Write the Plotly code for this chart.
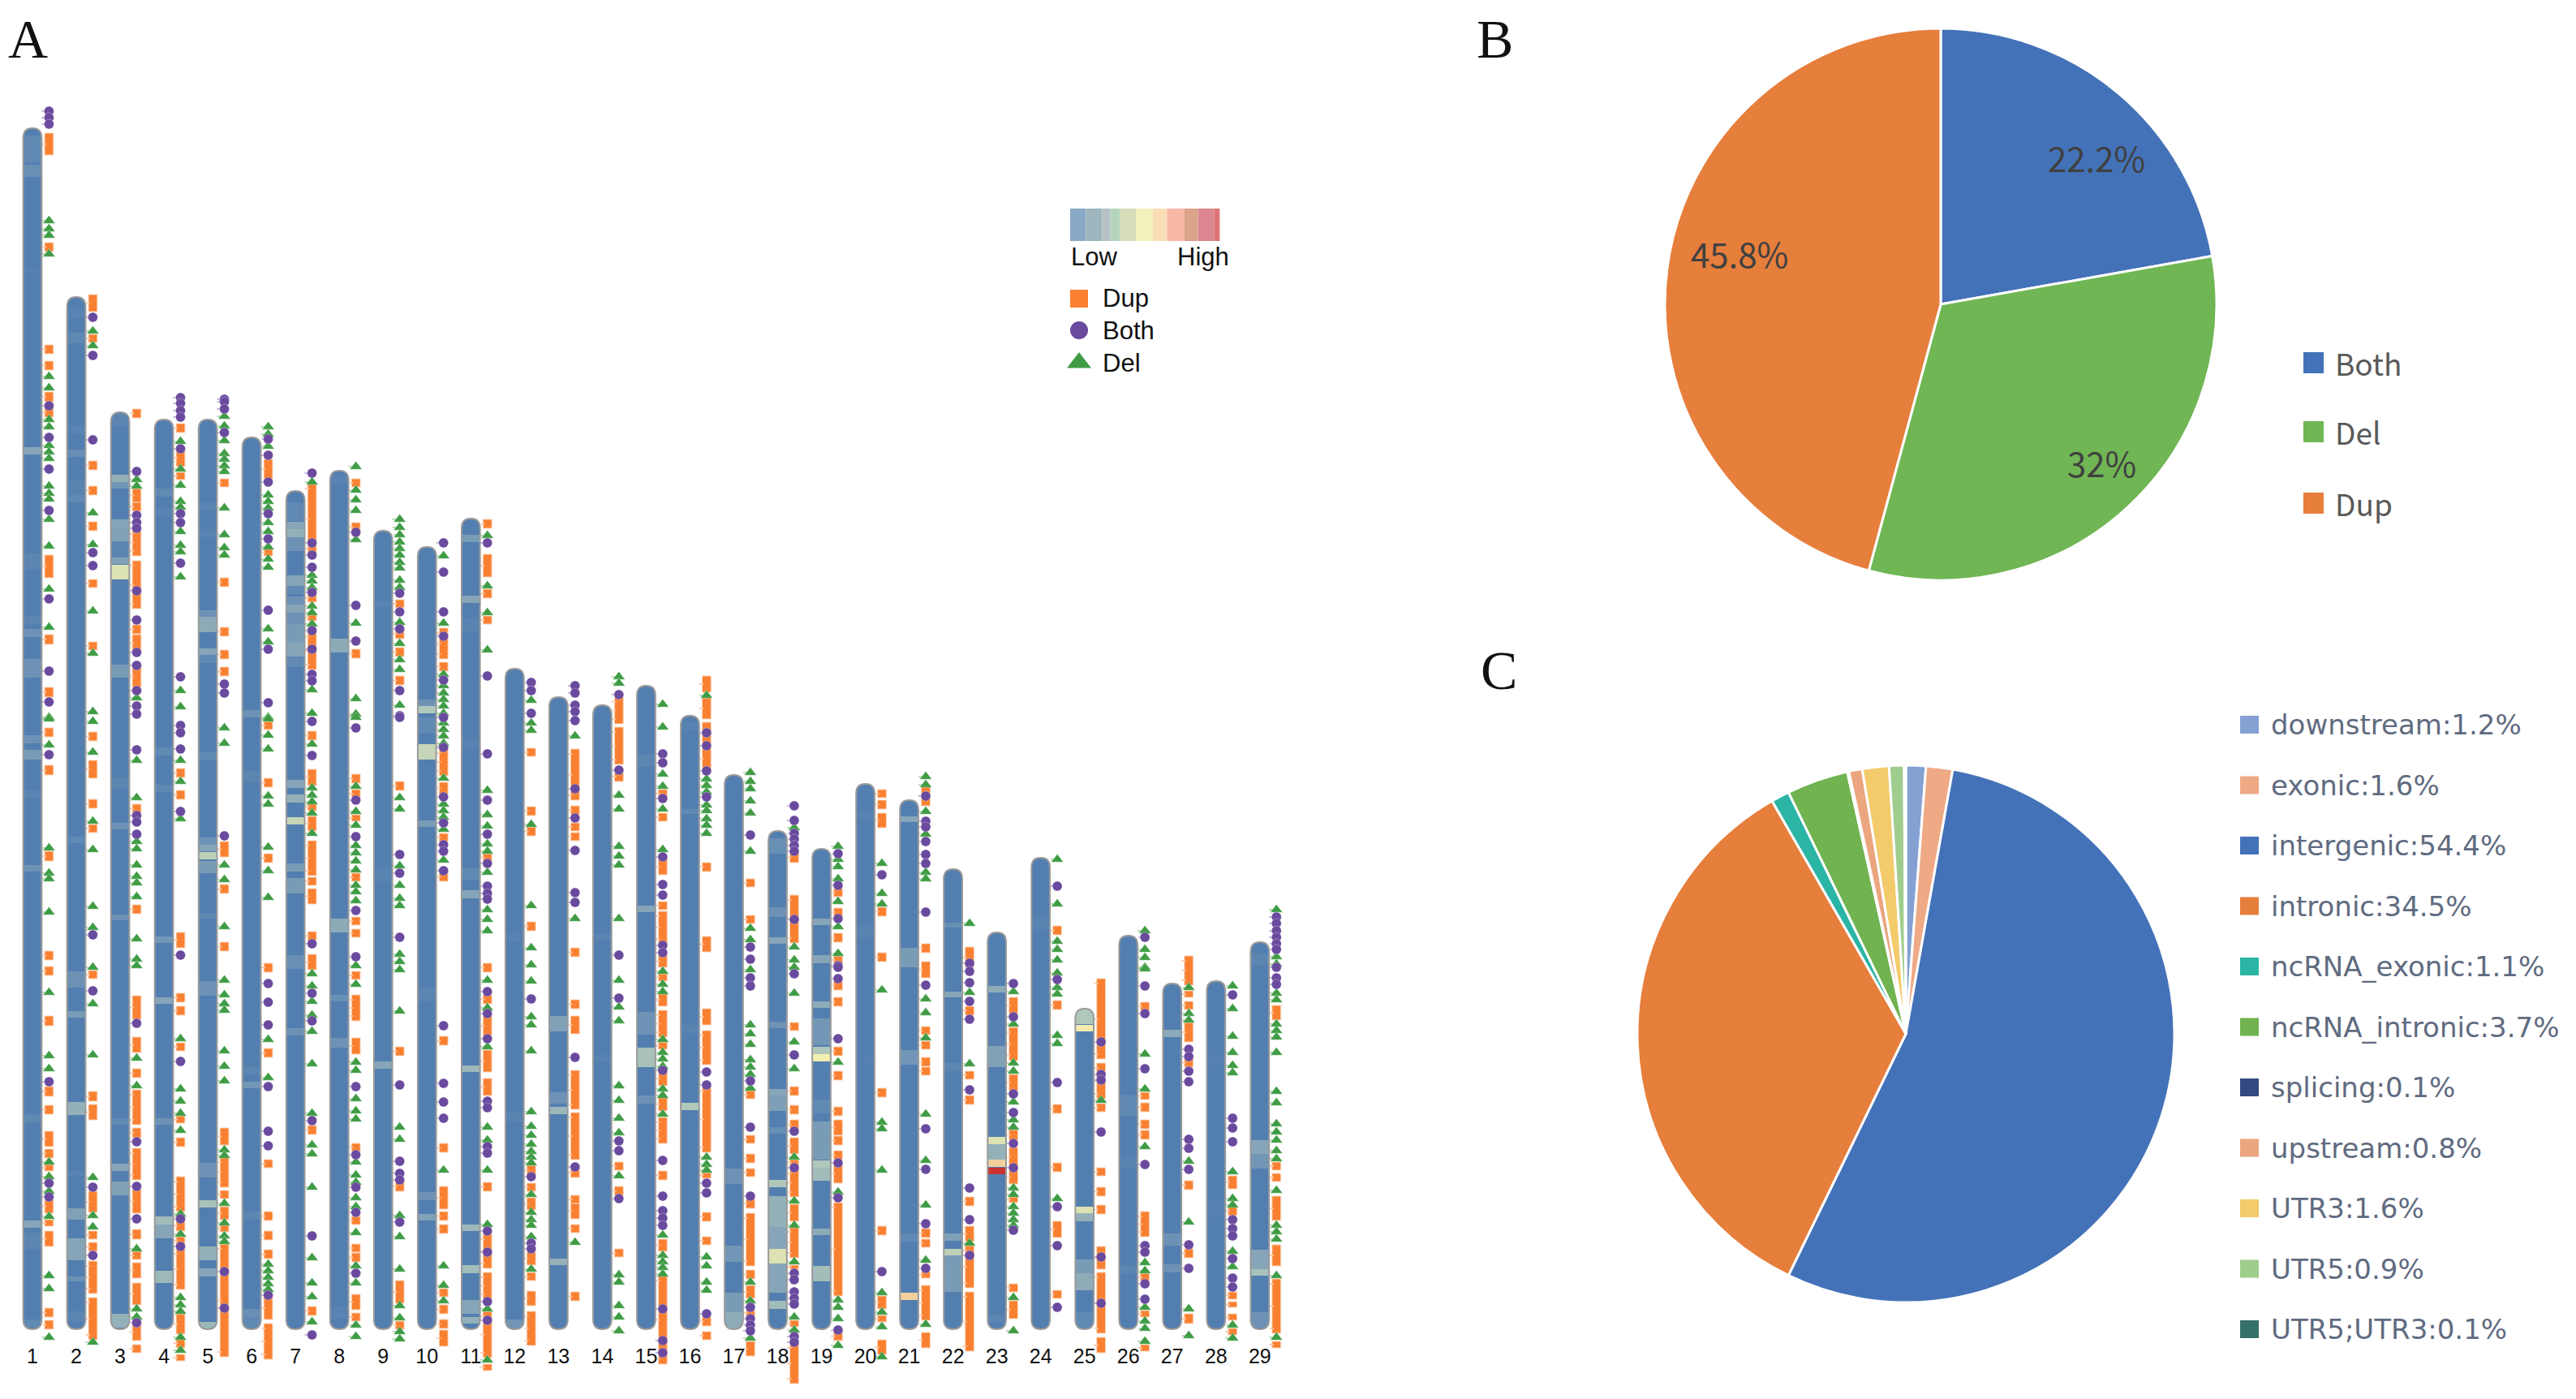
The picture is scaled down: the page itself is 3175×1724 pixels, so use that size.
import plotly.graph_objects as go

W, H = 3175, 1724
CHROMS = list(range(1, 30))
CHR_TOP = [158,366,508,517,517,539,605,580,654,674,639,824,859,869,845,882,955,1024,1046,966,986,1071,1149,1057,1243,1153,1212,1209,1161]
CHR_BOTTOM = 1638

DEL_POS = [
 [272,282,290,313,464,478,517,526,549,557,565,599,608,615,640,673,726,773,884,886,918,1045,1076,1083,1124,1223,1301,1317,1432,1450,1468,1499,1572,1588,1648],
 [408,426,632,671,753,805,877,889,927,1012,1047,1117,1143,1192,1237,1300,1451,1498,1512,1654],
 [591,599,860,937,983,1037,1046,1066,1080,1088,1105,1157,1182,1190,1304,1338,1539,1613,1623],
 [544,578,598,618,625,655,672,680,711,851,871,937,963,1009,1280,1342,1357,1372,1393,1496,1521,1599,1608,1616,1648,1664],
 [513,525,543,559,566,574,581,626,659,675,684,897,916,1066,1084,1142,1208,1226,1237,1245,1295,1314,1332,1417,1424,1483,1507,1523,1530],
 [526,535,550,610,618,626,644,655,674,689,699,775,791,884,886,906,923,981,991,1044,1073,1106,1281,1328,1558,1566,1574,1582,1589],
 [594,709,716,724,747,755,769,850,879,917,971,980,988,1002,1027,1200,1215,1234,1251,1271,1311,1372,1411,1422,1463,1550,1581,1598,1629],
 [575,604,616,629,665,768,861,880,884,969,1000,1017,1042,1051,1061,1072,1091,1099,1110,1190,1213,1309,1319,1354,1369,1379,1432,1448,1457,1476,1487,1519,1560,1581,1633,1647],
 [640,650,659,668,676,684,693,700,715,724,767,793,813,825,869,983,997,1067,1091,1107,1116,1176,1185,1195,1246,1389,1404,1498,1524,1564,1609,1624,1641,1650],
 [685,768,831,845,854,862,870,879,891,899,907,916,959,991,999,1007,1022,1060,1442,1560,1584,1603],
 [660,722,755,801,974,1004,1018,1040,1049,1075,1121,1133,1147,1208,1242,1290,1389,1405,1442,1509,1613,1676],
 [863,891,900,1016,1116,1168,1189,1209,1253,1263,1295,1370,1388,1399,1410,1419,1426,1433,1472,1494,1503,1510,1524,1564],
 [907,1132,1531],
 [834,842,980,997,1043,1055,1066,1132,1208,1241,1258,1338,1356,1378,1396,1449,1571,1580,1609,1623,1640],
 [868,896,954,969,997,1047,1197,1213,1222,1281,1297,1305,1314,1342,1350,1373,1522,1547,1555,1562,1570],
 [857,960,968,976,992,999,1009,1017,1027,1426,1435,1442,1549,1560,1580,1590],
 [952,963,972,987,1002,1049,1144,1158,1195,1263,1274,1287,1306,1315,1324,1341,1580,1603,1649],
 [1020,1167,1183,1192,1224,1284,1317,1426,1480,1510,1555,1623,1639],
 [1043,1059,1068,1083,1111,1142,1175,1309,1469,1602,1611,1625,1658],
 [1064,1101,1114,1220,1383,1391,1442,1593,1617,1635,1672],
 [957,967,1000,1028,1075,1083,1231,1248,1279,1373,1430,1485,1553,1632],
 [1138,1223,1311,1532],
 [1222,1262,1310,1320,1358,1380,1389,1464,1472,1487,1495,1503,1510,1599,1640],
 [1059,1114,1160,1170,1183,1199,1217,1225,1276,1286,1477],
 [1356],
 [1147,1170,1180,1192,1194,1299,1342,1413,1556,1566,1611,1628,1637,1653],
 [1217,1249,1257,1431,1506,1613,1646],
 [1215,1243,1277,1297,1313,1322,1444,1477,1485,1542,1561,1633,1649],
 [1121,1179,1188,1224,1232,1262,1270,1278,1297,1345,1359,1385,1395,1405,1418,1428,1467,1510,1518,1527,1572,1648],
]

BOTH_POS = [
 [137,145,153,500,539,578,629,738,827,865,930,1333,1458,1475],
 [391,438,542,681,697,1152,1221,1463,1547],
 [581,635,644,651,728,764,804,820,851,870,880,924,1005,1013,1028,1261,1407,1462,1502,1630],
 [490,497,506,514,553,633,644,694,834,894,903,923,1000,1177,1308,1502,1536],
 [492,495,504,533,843,854,1030,1567,1612],
 [541,561,594,633,664,752,800,866,1212,1235,1263,1339,1394,1412,1596],
 [583,669,684,699,730,777,800,831,839,889,931,1163,1224,1258,1381,1523,1645],
 [656,746,790,897,986,1031,1122,1179,1339,1423,1463,1494,1569],
 [731,754,775,851,882,884,1053,1076,1155,1337,1431,1446,1454,1506],
 [669,705,754,784,838,884,921,982,1014,1041,1049,1073,1264,1335,1358,1378],
 [669,833,929,986,1028,1064,1092,1101,1108,1222,1249,1280,1357,1365,1413,1421,1517,1543,1604,1627],
 [841,851,879,1231,1450,1532,1539],
 [845,854,869,877,888,972,1008,1048,1100,1112,1303,1438],
 [856,949,1177,1230,1406,1418,1477],
 [929,940,984,1056,1090,1103,1165,1174,1319,1430,1474,1492,1501,1510,1613,1652,1667],
 [903,919,950,982,1321,1337,1458,1470,1619],
 [1029,1167,1182,1205,1215,1332,1389,1474,1611,1625,1633,1640],
 [993,1011,1027,1034,1042,1049,1133,1200,1300,1394,1439,1569,1577,1592,1600,1607,1647,1654],
 [1052,1091,1132,1190,1192,1206,1280,1433,1476,1639],
 [1078,1567],
 [981,1012,1019,1037,1053,1064,1124,1214,1391,1441,1508,1563],
 [1187,1197,1211,1234,1256,1343,1464,1503,1547],
 [1212,1253,1348,1371,1409,1439,1516],
 [1092,1207,1334,1487,1535,1611],
 [1284,1324,1331,1395,1549,1606],
 [1155,1215,1249,1317,1435,1535,1543,1582,1601],
 [1293,1302,1320,1333,1404,1415,1441,1534,1563],
 [1226,1378,1390,1407,1503,1514,1523,1551,1575,1586],
 [1130,1138,1147,1155,1163,1170,1192,1205,1213],
]

DUP_RUNS = [
 [(164,191),(299,310),(425,436),(445,456),(483,495),(502,514),(684,712),(782,794),(847,859),(897,908),(943,955),(1049,1061),(1172,1183),(1191,1202),(1252,1264),(1339,1351),(1362,1373),(1394,1413),(1416,1427),(1435,1443),(1478,1495),(1503,1511),(1517,1536),(1612,1623),(1627,1638)],
 [(363,384),(412,422),(568,579),(599,610),(643,654),(714,724),(791,801),(902,913),(937,959),(985,996),(1016,1026),(1196,1206),(1345,1357),(1361,1380),(1468,1494),(1517,1527),(1531,1542),(1554,1594),(1599,1651)],
 [(504,515),(602,619),(619,630),(652,685),(691,750),(770,781),(782,804),(820,847),(991,1002),(1115,1126),(1227,1256),(1278,1297),(1317,1328),(1343,1386),(1390,1402),(1415,1454),(1466,1495),(1515,1527),(1542,1552),(1556,1575),(1581,1608),(1631,1652),(1657,1667)],
 [(522,533),(553,575),(582,591),(947,958),(974,985),(1149,1168),(1224,1235),(1240,1251),(1285,1295),(1375,1384),(1402,1413),(1450,1493),(1504,1517),(1524,1533),(1539,1589),(1619,1644),(1649,1661),(1669,1677)],
 [(590,600),(712,723),(773,784),(801,812),(822,833),(1037,1056),(1090,1101),(1161,1172),(1390,1411),(1426,1463),(1467,1477),(1487,1503),(1509,1518),(1533,1672)],
 [(566,590),(676,685),(889,899),(959,970),(1052,1063),(1187,1198),(1292,1303),(1429,1439),(1493,1504),(1517,1528),(1540,1551),(1598,1626),(1631,1675)],
 [(596,682),(732,742),(757,765),(779,825),(901,912),(948,968),(989,999),(1006,1024),(1036,1079),(1081,1091),(1095,1114),(1148,1159),(1176,1195),(1387,1398),(1610,1621)],
 [(590,600),(644,655),(800,811),(954,965),(973,983),(1004,1012),(1076,1086),(1130,1140),(1145,1155),(1197,1207),(1226,1258),(1279,1299),(1409,1419),(1499,1509),(1533,1543),(1544,1555),(1595,1614),(1618,1628)],
 [(739,749),(775,787),(798,809),(833,844),(963,974),(1290,1301),(1456,1468),(1578,1606),(1628,1638)],
 [(774,812),(816,827),(922,956),(964,979),(1027,1037),(1076,1086),(1277,1288),(1409,1420),(1462,1490),(1493,1504),(1509,1520),(1588,1598),(1608,1619),(1626,1637),(1639,1659)],
 [(640,651),(683,711),(726,737),(759,769),(1052,1061),(1187,1198),(1226,1237),(1252,1276),(1294,1321),(1329,1350),(1457,1468),(1521,1563),(1568,1601),(1616,1673),(1681,1689)],
 [(922,932),(994,1005),(1019,1030),(1136,1147),(1436,1448),(1458,1468),(1476,1491),(1543,1559),(1568,1578),(1591,1609),(1616,1658)],
 [(923,986),(993,1004),(1014,1024),(1026,1036),(1168,1179),(1232,1243),(1252,1274),(1319,1367),(1371,1429),(1439,1451),(1473,1483),(1483,1502),(1509,1519),(1592,1603)],
 [(859,892),(896,942),(951,963),(1432,1442),(1462,1473),(1539,1549)],
 [(973,982),(1002,1012),(1058,1078),(1111,1121),(1123,1163),(1177,1192),(1200,1209),(1224,1240),(1245,1278),(1284,1293),(1320,1338),(1352,1369),(1377,1409),(1443,1454),(1527,1542),(1572,1681)],
 [(833,853),(860,886),(890,917),(922,948),(1063,1074),(1154,1173),(1243,1263),(1270,1312),(1339,1420),(1445,1452),(1494,1505),(1524,1534),(1623,1634),(1641,1651)],
 [(1083,1093),(1128,1138),(1344,1354),(1399,1409),(1422,1433),(1440,1450),(1477,1489),(1495,1560),(1565,1576),(1584,1600),(1615,1621),(1653,1671)],
 [(1050,1063),(1103,1162),(1260,1270),(1339,1350),(1362,1373),(1380,1392),(1402,1422),(1429,1437),(1440,1475),(1484,1505),(1512,1550),(1559,1564),(1627,1635),(1655,1705)],
 [(1095,1105),(1119,1129),(1150,1161),(1178,1188),(1209,1220),(1229,1240),(1290,1301),(1320,1331),(1364,1375),(1380,1399),(1400,1411),(1418,1429),(1435,1458),(1482,1597),(1641,1652)],
 [(973,983),(986,997),(1002,1020),(1118,1129),(1174,1185),(1341,1352),(1511,1522),(1597,1613),(1621,1629),(1651,1669)],
 [(968,993),(1163,1174),(1185,1205),(1265,1275),(1283,1293),(1303,1314),(1315,1325),(1514,1525),(1527,1537),(1567,1575),(1584,1627),(1642,1661)],
 [(1167,1192),(1240,1251),(1320,1330),(1350,1361),(1475,1486),(1511,1530),(1535,1587),(1592,1665)],
 [(1229,1249),(1266,1307),(1324,1344),(1392,1405),(1414,1437),(1442,1459),(1475,1482),(1582,1592),(1603,1625)],
 [(1141,1152),(1233,1244),(1361,1372),(1433,1444),(1505,1525),(1590,1600)],
 [(1206,1305),(1310,1354),(1360,1370),(1439,1449),(1463,1474),(1485,1496),(1536,1564),(1568,1643),(1648,1667)],
 [(1235,1245),(1346,1355),(1359,1370),(1380,1391),(1393,1404),(1493,1524),(1569,1579),(1615,1623),(1657,1665)],
 [(1178,1214),(1221,1229),(1234,1244),(1260,1284),(1304,1315),(1455,1466),(1539,1550),(1619,1631)],
 [(1449,1465),(1487,1498),(1592,1601),(1604,1611),(1619,1627),(1637,1645)],
 [(1239,1257),(1432,1442),(1446,1456),(1474,1504),(1534,1560),(1576,1643),(1653,1661)],
]

BANDS = [
 [(167,200,.15),(203,218,.18),(330,338,.08),(551,560,.3),(682,702,.12),(759,769,.12),(775,785,.2),(812,835,.2),(906,916,.2),(924,936,.25),(974,984,.1),(1066,1074,.2),(1373,1383,.15),(1504,1513,.3),(1519,1539,.12),(1626,1636,.15)],
 [(380,392,.1),(410,423,.15),(525,535,.1),(554,563,.18),(592,619,.1),(610,619,.15),(1031,1039,.15),(1197,1217,.2),(1246,1254,.25),(1358,1374,.35),(1443,1449,.1),(1489,1503,.28),(1526,1553,.3),(1573,1579,.2),(1616,1629,.12)],
 [(509,525,.12),(585,594,.35),(594,602,.22),(640,652,.3),(652,667,.28),(667,687,.12),(687,695,.28),(696,714,.55),(819,835,.25),(959,972,.12),(1014,1022,.2),(1127,1134,.2),(1378,1386,.15),(1434,1443,.3),(1456,1473,.28),(1619,1636,.35)],
 [(602,612,.15),(625,635,.1),(921,931,.15),(967,976,.15),(1154,1162,.22),(1229,1237,.3),(1378,1386,.2),(1499,1509,.4),(1509,1526,.3),(1566,1581,.38)],
 [(619,629,.1),(652,662,.1),(752,760,.2),(760,779,.32),(799,807,.3),(807,817,.15),(927,937,.15),(1032,1041,.2),(1041,1049,.3),(1050,1059,.48),(1061,1076,.25),(1126,1132,.15),(1209,1227,.2),(1433,1451,.2),(1479,1488,.42),(1536,1553,.35),(1563,1573,.3),(1629,1637,.38)],
 [(875,884,.2),(950,964,.12),(1314,1324,.12),(1333,1341,.22),(1493,1503,.12),(1613,1623,.18),(1623,1636,.15)],
 [(619,642,.15),(643,652,.3),(652,662,.35),(662,679,.2),(709,722,.3),(722,732,.15),(735,745,.2),(745,755,.3),(755,769,.2),(769,792,.25),(792,809,.3),(809,822,.15),(961,971,.3),(979,989,.35),(1007,1016,.5),(1064,1074,.25),(1082,1101,.25),(1177,1194,.18),(1267,1276,.2)],
 [(585,596,.1),(787,804,.32),(1132,1149,.32),(1226,1234,.18),(1279,1291,.2),(1610,1625,.1)],
 [(740,748,.1),(1070,1086,.1),(1308,1317,.3)],
 [(862,870,.2),(870,879,.45),(884,904,.15),(917,936,.5),(1011,1019,.25),(1217,1234,.12),(1469,1479,.2),(1496,1504,.28)],
 [(659,668,.25),(734,743,.3),(762,779,.1),(911,921,.1),(1070,1084,.15),(1097,1107,.3),(1313,1321,.38),(1509,1517,.38),(1559,1569,.4),(1602,1619,.3),(1623,1631,.35)],
 [(1150,1160,.1),(1370,1382,.1),(1626,1637,.22)],
 [(1252,1271,.28),(1346,1360,.2),(1364,1373,.38),(1551,1559,.35)],
 [(1151,1158,.12),(1300,1308,.1)],
 [(930,945,.12),(1116,1124,.3),(1247,1275,.2),(1291,1315,.42),(1350,1360,.2)],
 [(890,900,.1),(997,1003,.15),(1263,1273,.1),(1359,1368,.45)],
 [(1440,1459,.2),(1535,1555,.22),(1593,1617,.25),(1617,1639,.33)],
 [(1033,1052,.18),(1118,1130,.2),(1155,1163,.3),(1259,1267,.2),(1342,1350,.3),(1350,1369,.27),(1389,1397,.18),(1454,1463,.45),(1474,1484,.35),(1484,1512,.35),(1512,1539,.3),(1539,1557,.55),(1557,1581,.3),(1581,1593,.3),(1603,1613,.4)],
 [(1132,1140,.3),(1177,1187,.3),(1234,1242,.32),(1255,1288,.22),(1290,1299,.45),(1299,1308,.6),(1355,1372,.15),(1382,1429,.25),(1430,1439,.45),(1439,1455,.4),(1514,1522,.32),(1560,1579,.4)],
 [(1000,1010,.1),(1140,1155,.1),(1300,1310,.08)],
 [(1006,1013,.3),(1168,1192,.25),(1294,1312,.22),(1520,1530,.15),(1593,1602,.72)],
 [(1137,1143,.18),(1222,1229,.3),(1310,1320,.12),(1520,1529,.27),(1539,1547,.48),(1547,1592,.25)],
 [(1215,1223,.33),(1223,1289,.08),(1289,1315,.28),(1401,1410,.55),(1410,1429,.35),(1429,1438,.72),(1439,1447,1.0),(1620,1630,.12)],
 [(1130,1145,.1),(1300,1315,.06)],
 [(1244,1262,.45),(1263,1271,.62),(1487,1495,.55),(1495,1505,.35),(1552,1569,.25),(1569,1590,.33),(1617,1636,.15)],
 [(1349,1375,.15),(1425,1440,.1),(1560,1570,.12)],
 [(1269,1278,.32),(1520,1535,.2),(1558,1568,.2)],
 [(1300,1312,.08),(1480,1500,.08)],
 [(1175,1190,.12),(1405,1422,.3),(1422,1440,.22),(1540,1564,.3),(1564,1572,.42),(1617,1636,.2)],
]

PIE_B_LABELS = ["Both", "Del", "Dup"]
PIE_B_VALUES = [22.2, 32, 45.8]
PIE_B_COLORS = ["#4472B8", "#70B654", "#E67E3C"]
PIE_C_LABELS = ["downstream", "exonic", "intergenic", "intronic", "ncRNA_exonic", "ncRNA_intronic", "splicing", "upstream", "UTR3", "UTR5", "UTR5;UTR3"]
PIE_C_VALUES = [1.2, 1.6, 54.4, 34.5, 1.1, 3.7, 0.1, 0.8, 1.6, 0.9, 0.1]
PIE_C_COLORS = ["#85A1D4", "#EFA985", "#4472B8", "#E67E3C", "#2BB5A5", "#70B350", "#34497F", "#EBA57F", "#F3CB6B", "#9FCD8E", "#35706A"]
HEAT_LEGEND_COLORS = ["#8AA9C6", "#9DB6BE", "#B5C1C4", "#B5D4BC", "#D6DDBA", "#F2F2BC", "#F9DDB7", "#F9B8A5", "#DBA48B", "#DC8790", "#DD7575"]
HEAT_LEGEND_WIDTHS = [58, 60, 30, 35, 60, 62, 53, 65, 50, 60, 20]
HEAT_SCALE = [[0, "#4A76AE"], [.15, "#6089B3"], [.3, "#86A5B8"], [.45, "#B0C8BA"], [.6, "#F3EFB0"], [.75, "#F0C89A"], [1, "#C8322F"]]

DUP_C, BOTH_C, DEL_C = "#F98030", "#6A4A9E", "#3F9C45"
PX_PER_CHR = 54.03
X_LEFT = 1 - 40 / PX_PER_CHR
PANEL_W = 1650
HALF = 0.21
OFFSET = 0.378

def px_to_x(px):
    return X_LEFT + px / PX_PER_CHR

fig = go.Figure()

bx, bb, bl, bv = [], [], [], []
for c, top in zip(CHROMS, CHR_TOP):
    bx.append(c); bb.append(top); bl.append(CHR_BOTTOM - top); bv.append(.06)
    for t, b, v in BANDS[c - 1]:
        bx.append(c); bb.append(t); bl.append(b - t); bv.append(v)
fig.add_trace(go.Bar(x=bx, base=bb, y=bl, width=[2 * HALF] * len(bx), showlegend=False, hoverinfo="skip",
                     marker=dict(color=bv, colorscale=HEAT_SCALE, cmin=0, cmax=1, line=dict(width=0))))

def links(points, color):
    xs, ys = [], []
    for c, y in points:
        xs += [c + HALF, c + OFFSET - .06, None]
        ys += [y, y, None]
    fig.add_trace(go.Scatter(x=xs, y=ys, mode="lines", line=dict(color=color, width=1.6), showlegend=False, hoverinfo="skip"))

dup_links = []
for c in CHROMS:
    for t, b in DUP_RUNS[c - 1]:
        dup_links.append((c, (t + b) / 2))
        if b - t > 30:
            dup_links += [(c, t + 6), (c, b - 6)]
links(dup_links, "#FBC6A4")
links([(c, y) for c in CHROMS for y in DEL_POS[c - 1]], "#A9D3AB")
links([(c, y) for c in CHROMS for y in BOTH_POS[c - 1]], "#B5A5D2")

dx, db, dl = [], [], []
for c in CHROMS:
    for t, b in DUP_RUNS[c - 1]:
        dx.append(c + OFFSET); db.append(t); dl.append(b - t)
fig.add_trace(go.Bar(x=dx, base=db, y=dl, width=[.2] * len(dx), name="Dup", showlegend=False, hoverinfo="skip",
                     marker=dict(color=DUP_C, line=dict(color="#FCD3B8", width=1))))

def marks(pos, symbol, color, name, size):
    xs = [c + OFFSET for c in CHROMS for _ in pos[c - 1]]
    ys = [y for c in CHROMS for y in pos[c - 1]]
    fig.add_trace(go.Scatter(x=xs, y=ys, mode="markers", name=name, showlegend=False, hoverinfo="skip", cliponaxis=False,
                             marker=dict(symbol=symbol, size=size, color=color, line=dict(color="rgba(255,255,255,.5)", width=.6))))

marks(DEL_POS, "triangle-up", DEL_C, "Del", 13)
marks(BOTH_POS, "circle", BOTH_C, "Both", 12)

lx = px_to_x(1330)
for y, sym, col in zip([368, 407, 447], ["square", "circle", "triangle-up"], [DUP_C, BOTH_C, DEL_C]):
    fig.add_trace(go.Scatter(x=[lx], y=[y], mode="markers", showlegend=False, hoverinfo="skip",
                             marker=dict(symbol=sym, size=22 if sym != "triangle-up" else 26, color=col, line=dict(width=0))))

shapes = []
RY = 12
for c, top in zip(CHROMS, CHR_TOP):
    x0, x1, bot = c - HALF, c + HALF, CHR_BOTTOM
    m = (f"M {x0-.02},{top-1} L {x0-.02},{top+RY} L {x0},{top+RY} Q {x0},{top} {c},{top} L {c},{top-1} Z "
         f"M {x1+.02},{top-1} L {x1+.02},{top+RY} L {x1},{top+RY} Q {x1},{top} {c},{top} L {c},{top-1} Z "
         f"M {x0-.02},{bot+1} L {x0-.02},{bot-RY} L {x0},{bot-RY} Q {x0},{bot} {c},{bot} L {c},{bot+1} Z "
         f"M {x1+.02},{bot+1} L {x1+.02},{bot-RY} L {x1},{bot-RY} Q {x1},{bot} {c},{bot} L {c},{bot+1} Z")
    shapes.append(dict(type="path", path=m, xref="x", yref="y", fillcolor="white", line=dict(width=0), layer="above"))
    o = (f"M {x0},{top+RY} Q {x0},{top} {c},{top} Q {x1},{top} {x1},{top+RY} L {x1},{bot-RY} "
         f"Q {x1},{bot} {c},{bot} Q {x0},{bot} {x0},{bot-RY} Z")
    shapes.append(dict(type="path", path=o, xref="x", yref="y", line=dict(color="#9A9A9A", width=2), layer="above"))

x = 1319
for col, w in zip(HEAT_LEGEND_COLORS, [v / 3 for v in HEAT_LEGEND_WIDTHS]):
    shapes.append(dict(type="rect", xref="paper", yref="paper", x0=x / W, x1=(x + w) / W, y0=1 - 297 / H, y1=1 - 257 / H,
                       fillcolor=col, line=dict(width=0)))
    x += w

for y, col in zip([447, 532, 620], PIE_B_COLORS):
    shapes.append(dict(type="rect", xref="paper", yref="paper", x0=2839 / W, x1=2864 / W, y0=1 - (y + 13) / H, y1=1 - (y - 13) / H,
                       fillcolor=col, line=dict(width=0)))
for i, col in enumerate(PIE_C_COLORS):
    y = 893 + i * 74.5
    shapes.append(dict(type="rect", xref="paper", yref="paper", x0=2761 / W, x1=2784 / W, y0=1 - (y + 11) / H, y1=1 - (y - 11) / H,
                       fillcolor=col, line=dict(width=0)))

def pie_domain(cx, cy, r):
    return dict(x=[(cx - r) / W, (cx + r) / W], y=[1 - (cy + r) / H, 1 - (cy - r) / H])

fig.add_trace(go.Pie(labels=PIE_B_LABELS, values=PIE_B_VALUES, sort=False, direction="clockwise", rotation=0,
                     marker=dict(colors=PIE_B_COLORS, line=dict(color="white", width=3)), textinfo="none", showlegend=False,
                     hoverinfo="skip", domain=pie_domain(2392, 375, 340)))
fig.add_trace(go.Pie(labels=PIE_C_LABELS, values=PIE_C_VALUES, sort=False, direction="clockwise", rotation=0,
                     marker=dict(colors=PIE_C_COLORS, line=dict(color="white", width=3)), textinfo="none", showlegend=False,
                     hoverinfo="skip", domain=pie_domain(2349, 1274, 331)))

anns = []
def label(px, py, text, size, font, color="#595959", anchor="left"):
    anns.append(dict(xref="paper", yref="paper", x=px / W, y=1 - py / H, text=text, showarrow=False, xanchor=anchor, yanchor="middle",
                     font=dict(family=font, size=size, color=color)))

SERIF = "Liberation Serif"
ARIAL = "Liberation Sans"
PIEF = "Noto Sans CJK SC"
label(8, 48, "A", 68, SERIF, "#111111")
label(1818, 48, "B", 68, SERIF, "#111111")
label(1823, 826, "C", 68, SERIF, "#111111")
label(1318, 317, "Low", 31, ARIAL, "#111111")
label(1449, 317, "High", 31, ARIAL, "#111111")
for y, t in zip([368, 407, 447], ["Dup", "Both", "Del"]):
    label(1357, y, t, 31, ARIAL, "#111111")
for v, (px, py) in zip(PIE_B_VALUES, [(2584, 194), (2590, 569), (2144, 312)]):
    label(px, py, f"{v:g}%", 42, PIEF, "#404040", "center")
for y, t in zip([447, 532, 620], PIE_B_LABELS):
    label(2876, y, t, 37, PIEF)
for i, (t, v) in enumerate(zip(PIE_C_LABELS, PIE_C_VALUES)):
    label(2797, 893 + i * 74.5, f"{t}:{v:g}%", 34, "DejaVu Sans", "#5F6B80")

fig.update_layout(
    width=W, height=H, margin=dict(l=0, r=0, t=0, b=0), paper_bgcolor="white", plot_bgcolor="white",
    barmode="overlay", showlegend=False, shapes=shapes, annotations=anns,
    xaxis=dict(domain=[0, PANEL_W / W], range=[X_LEFT, X_LEFT + PANEL_W / PX_PER_CHR], anchor="free", position=1 - 1654 / H,
               tickmode="array", tickvals=CHROMS, ticktext=[str(c) for c in CHROMS], showgrid=False, zeroline=False,
               showline=False, ticks="", tickfont=dict(family=ARIAL, size=25, color="#111111")),
    yaxis=dict(domain=[0, 1], range=[H, 0], visible=False, showgrid=False, zeroline=False),
)
fig.write_html("out.html", config={"displayModeBar": False},
               post_script="document.body.style.margin='0';document.documentElement.style.overflow='hidden';")
